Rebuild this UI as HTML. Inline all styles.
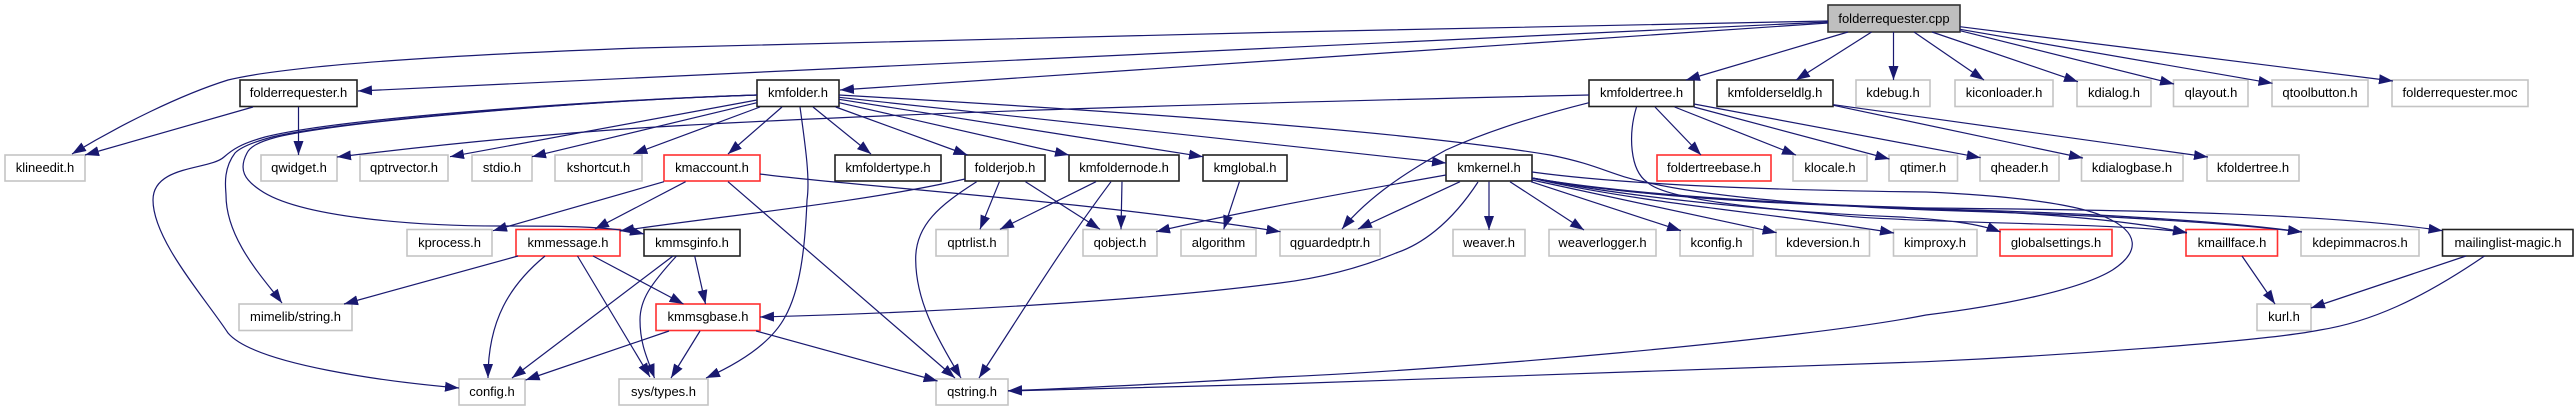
<!DOCTYPE html>
<html>
<head>
<meta charset="utf-8">
<style>
html,body{margin:0;padding:0;background:#fff;width:2576px;height:411px;overflow:hidden}
svg{display:block}
text{font-family:"Liberation Sans",sans-serif;font-size:13px;text-anchor:middle;fill:#000}
rect.g{fill:#fff;stroke:#c4c4c4;stroke-width:1.6}
rect.k{fill:#fff;stroke:#222;stroke-width:1.6}
rect.r{fill:#fff;stroke:#ff3030;stroke-width:1.6}
rect.o{fill:#bfbfbf;stroke:#333;stroke-width:1.6}
.e path{fill:none;stroke:#191970;stroke-width:1.2;marker-end:url(#a)}
</style>
</head>
<body>
<svg width="2576" height="411" viewBox="0 0 2576 411" xmlns="http://www.w3.org/2000/svg">
<defs>
<marker id="a" markerUnits="userSpaceOnUse" markerWidth="16" markerHeight="12" refX="14" refY="5.500" orient="auto">
<path d="M0,0.5 L14,5.500 L0,10.500 Z" fill="#191970"/>
</marker>
</defs>

<!-- nodes -->
<rect class="o" x="1828" y="5" width="132" height="27"/><text x="1894" y="23">folderrequester.cpp</text>

<rect class="k" x="240" y="80" width="117" height="26.5"/><text x="298.500" y="97">folderrequester.h</text>
<rect class="k" x="757" y="80" width="82" height="26.5"/><text x="798" y="97">kmfolder.h</text>
<rect class="k" x="1589" y="80" width="105" height="26.5"/><text x="1641.500" y="97">kmfoldertree.h</text>
<rect class="k" x="1717" y="80" width="116" height="26.5"/><text x="1775" y="97">kmfolderseldlg.h</text>
<rect class="g" x="1856" y="80" width="74" height="26.5"/><text x="1893" y="97">kdebug.h</text>
<rect class="g" x="1955" y="80" width="98" height="26.5"/><text x="2004" y="97">kiconloader.h</text>
<rect class="g" x="2077" y="80" width="74" height="26.5"/><text x="2114" y="97">kdialog.h</text>
<rect class="g" x="2173.500" y="80" width="74.500" height="26.500"/><text x="2211" y="97">qlayout.h</text>
<rect class="g" x="2272" y="80" width="96" height="26.5"/><text x="2320" y="97">qtoolbutton.h</text>
<rect class="g" x="2392" y="80" width="136" height="26.5"/><text x="2460" y="97">folderrequester.moc</text>

<rect class="g" x="5" y="155" width="80" height="26"/><text x="45" y="172">klineedit.h</text>
<rect class="g" x="261" y="155" width="76" height="26"/><text x="299" y="172">qwidget.h</text>
<rect class="g" x="360" y="155" width="88" height="26"/><text x="404" y="172">qptrvector.h</text>
<rect class="g" x="472" y="155" width="60" height="26"/><text x="502" y="172">stdio.h</text>
<rect class="g" x="555" y="155" width="87" height="26"/><text x="598.500" y="172">kshortcut.h</text>
<rect class="r" x="664" y="155" width="96" height="26"/><text x="712" y="172">kmaccount.h</text>
<rect class="k" x="835" y="155" width="106" height="26"/><text x="888" y="172">kmfoldertype.h</text>
<rect class="k" x="965" y="155" width="80" height="26"/><text x="1005" y="172">folderjob.h</text>
<rect class="k" x="1069" y="155" width="110" height="26"/><text x="1124" y="172">kmfoldernode.h</text>
<rect class="k" x="1203" y="155" width="84" height="26"/><text x="1245" y="172">kmglobal.h</text>
<rect class="k" x="1446" y="155" width="86" height="26"/><text x="1489" y="172">kmkernel.h</text>
<rect class="r" x="1657" y="155" width="114" height="26"/><text x="1714" y="172">foldertreebase.h</text>
<rect class="g" x="1793" y="155" width="74" height="26"/><text x="1830" y="172">klocale.h</text>
<rect class="g" x="1889" y="155" width="68.500" height="26"/><text x="1923" y="172">qtimer.h</text>
<rect class="g" x="1980" y="155" width="79" height="26"/><text x="2019.500" y="172">qheader.h</text>
<rect class="g" x="2081.500" y="155" width="101.500" height="26"/><text x="2132" y="172">kdialogbase.h</text>
<rect class="g" x="2207" y="155" width="92" height="26"/><text x="2253" y="172">kfoldertree.h</text>

<rect class="g" x="407" y="229.500" width="85" height="26.500"/><text x="449.500" y="247">kprocess.h</text>
<rect class="r" x="516" y="229.500" width="104" height="26.500"/><text x="568" y="247">kmmessage.h</text>
<rect class="k" x="644" y="229.500" width="96" height="26.500"/><text x="692" y="247">kmmsginfo.h</text>
<rect class="g" x="936" y="229.500" width="72" height="26.500"/><text x="972" y="247">qptrlist.h</text>
<rect class="g" x="1083" y="229.500" width="74" height="26.500"/><text x="1120" y="247">qobject.h</text>
<rect class="g" x="1181" y="229.500" width="75" height="26.500"/><text x="1218.500" y="247">algorithm</text>
<rect class="g" x="1280" y="229.500" width="100" height="26.500"/><text x="1330" y="247">qguardedptr.h</text>
<rect class="g" x="1453" y="229.500" width="72" height="26.500"/><text x="1489" y="247">weaver.h</text>
<rect class="g" x="1549" y="229.500" width="107" height="26.500"/><text x="1602.500" y="247">weaverlogger.h</text>
<rect class="g" x="1680" y="229.500" width="73" height="26.500"/><text x="1716.500" y="247">kconfig.h</text>
<rect class="g" x="1776" y="229.500" width="93.500" height="26.500"/><text x="1823" y="247">kdeversion.h</text>
<rect class="g" x="1893.500" y="229.500" width="83.500" height="26.500"/><text x="1935" y="247">kimproxy.h</text>
<rect class="r" x="2000" y="229.500" width="112" height="26.500"/><text x="2056" y="247">globalsettings.h</text>
<rect class="r" x="2186" y="229.500" width="91.500" height="26.500"/><text x="2232" y="247">kmaillface.h</text>
<rect class="g" x="2301" y="229.500" width="118" height="26.500"/><text x="2360" y="247">kdepimmacros.h</text>
<rect class="k" x="2442.500" y="229.500" width="130.500" height="26.500"/><text x="2508" y="247">mailinglist-magic.h</text>

<rect class="g" x="239" y="304" width="113" height="26.500"/><text x="295.500" y="321">mimelib/string.h</text>
<rect class="r" x="656" y="304" width="104" height="26.500"/><text x="708" y="321">kmmsgbase.h</text>
<rect class="g" x="2257" y="304" width="54" height="26.500"/><text x="2284" y="321">kurl.h</text>

<rect class="g" x="459" y="379" width="66" height="26"/><text x="492" y="396">config.h</text>
<rect class="g" x="619" y="379" width="89" height="26"/><text x="663.500" y="396">sys/types.h</text>
<rect class="g" x="936" y="379" width="72" height="26"/><text x="972" y="396">qstring.h</text>

<!-- edges -->
<g class="e">
<path d="M1828,21 C1500,27 900,40 640,48 C450,55 290,65 228,80 C180,95 120,125 72,154"/>
<path d="M1828,22 L358,91"/>
<path d="M1828,23 L840,90"/>
<path d="M1848,32 L1686,80"/>
<path d="M1871.600,32 L1796,80"/>
<path d="M1893.500,32 L1893.500,80"/>
<path d="M1914,32 L1984,80"/>
<path d="M1932,32 L2078,81.700"/>
<path d="M1960,30.700 L2174,84"/>
<path d="M1960,29.300 L2272.500,83.300"/>
<path d="M1960,26.700 L2393,81"/>

<path d="M253,107 L85,155"/>
<path d="M298.500,107 L298.500,155"/>

<path d="M1589,95 C1280,102 900,112 640,128 C520,136 420,147 337,157"/>
<path d="M757,95 C600,100 340,118 265,137 C240,144 232,150 224,157 C210,170 153,165 153,200 C153,240 205,298 228,333 C255,365 390,382 459,388"/>
<path d="M757,95 C600,100 345,120 272,137 C250,143 240,148 235,153 C222,170 226,190 226,195 C226,240 265,280 282,303"/>
<path d="M757,95 C600,100 350,120 277,137 C258,142 250,147 247,153 C238,170 245,180 260,190 C300,218 420,226 500,226 C560,226 610,226 644,234"/>
<path d="M757,100 L450,156.700"/>
<path d="M757,102.700 L532,156.700"/>
<path d="M760,107 L633.400,154"/>
<path d="M782,107 L728,154"/>
<path d="M813,107 L871,154"/>
<path d="M835.700,107 L967.500,155"/>
<path d="M839,102.700 L1069,155"/>
<path d="M839,99.300 L1203,156.700"/>
<path d="M839,97.300 L1446,163"/>
<path d="M839,95 C1100,110 1400,130 1550,155 C1600,165 1610,175 1645,182 C1700,195 1800,205 1930,210 C2100,215 2220,222 2302,232"/>
<path d="M800,107 C806,150 810,180 807,200 C805,250 800,290 785,317 C770,345 735,365 706,378"/>

<path d="M664,181.700 L493,230.700"/>
<path d="M685.600,181.700 L595,229"/>
<path d="M728,181.700 L955,378"/>
<path d="M760,174 C850,186 1080,200 1280.500,231.700"/>

<path d="M965,179 C860,203 720,216 620,231"/>
<path d="M999.400,181.700 L980,229.300"/>
<path d="M1025.500,181.700 L1100,229.300"/>
<path d="M976.600,181.700 C940,205 915,225 915.700,260 C916,300 935,335 961,378"/>

<path d="M1096,181.700 L1000,229.300"/>
<path d="M1122,181.700 L1121,229.300"/>
<path d="M1111,181.700 C1060,250 1030,300 979,378"/>
<path d="M1239.400,181.700 L1223.700,229.300"/>

<path d="M1589,102.700 C1540,115 1490,130 1446,150 C1410,170 1370,195 1342,229"/>
<path d="M1655,107 L1701,155"/>
<path d="M1674.600,107 L1796,155"/>
<path d="M1694,107 L1889.400,159"/>
<path d="M1694,104 L1980.700,157.700"/>
<path d="M1636.500,107 C1628,135 1630,170 1647,182 C1665,200 1760,208 1853,216.700 C1950,224 2120,223 2187,232.500"/>

<path d="M1833.500,105.300 L2083,158"/>
<path d="M1833.500,104.700 L2208,157"/>

<path d="M1446,175 C1350,192 1240,212 1156,231.700"/>
<path d="M1460,181.700 L1358,229"/>
<path d="M1478,182 C1450,225 1420,245 1396,253 C1360,268 1320,278 1280,283 C1150,300 950,312 760,317"/>
<path d="M1489,181.700 L1489,230"/>
<path d="M1510,181.700 L1584,230"/>
<path d="M1531,181.700 L1681,230.700"/>
<path d="M1532,180 L1776.600,232.700"/>
<path d="M1532,178.300 C1650,205 1790,215 1894,233"/>
<path d="M1532,178 C1640,200 1800,213 1900,217 C1950,220 1980,224 2000.600,232"/>
<path d="M1532,178 C1640,198 1800,205 1930,209 C2050,213 2140,222 2187,233"/>
<path d="M1532,178 C1640,198 1800,204 1930,209 C2100,213 2230,222 2302,232"/>
<path d="M1532,178 C1640,197 1820,205 1926,208 C2150,210 2330,214 2442.500,230.700"/>
<path d="M1532,172 C1620,184 1750,190 1926,192 C2000,195 2075,203 2105,217 C2140,232 2140,252 2112.500,270 C2080,290 2000,306 1926,315 C1800,340 1450,370 1280,377 C1180,383 1080,388 1008,390.700"/>

<path d="M2484.500,256 C2420,300 2370,322 2320,330 C2260,342 2050,356 1926,361.700 L1280,384 L1008,391"/>
<path d="M2466,256 L2311,308"/>
<path d="M2242,256 L2275,304"/>

<path d="M518,256 L344,304"/>
<path d="M545,256 C510,285 488,320 488,378"/>
<path d="M577.500,256 L650,377"/>
<path d="M593,256 L683.500,304"/>

<path d="M673,256 L512,378"/>
<path d="M676.500,256 C650,285 640,300 640,320 C640,345 648,360 654.500,378"/>
<path d="M694.700,256 L705.500,304"/>

<path d="M669,331 L525.600,380"/>
<path d="M700,331 L671,378"/>
<path d="M756,331 L937.600,381"/>
</g>
</svg>
</body>
</html>
